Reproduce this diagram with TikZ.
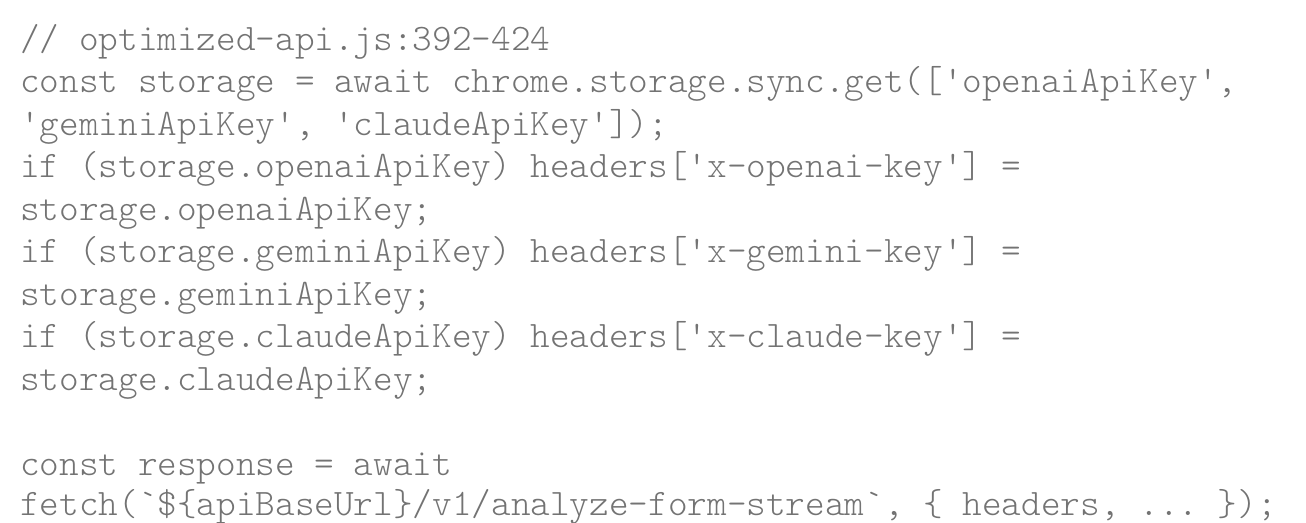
\documentclass[tikz,border=0pt]{standalone}
\usepackage{fontspec}
\setmonofont{Latin Modern Mono Light}
\begin{document}
\begin{tikzpicture}[x=1pt,y=1pt,code/.style={anchor=base west,inner sep=0pt,font=\ttfamily\fontsize{37.4}{40}\selectfont,text=black!55}]
\useasboundingbox (0,0) rectangle (1306,-522);
\node[code] (l1) at (20,-50) {// optimized-api.js:392-424};
\node[code] (l2) at (20,-92.5) {const storage = await chrome.storage.sync.get(['openaiApiKey',};
\node[code] (l3) at (20,-135) {'geminiApiKey', 'claudeApiKey']);};
\node[code] (l4) at (20,-177.5) {if (storage.openaiApiKey) headers['x-openai-key'] =};
\node[code] (l5) at (20,-220) {storage.openaiApiKey;};
\node[code] (l6) at (20,-262.5) {if (storage.geminiApiKey) headers['x-gemini-key'] =};
\node[code] (l7) at (20,-305) {storage.geminiApiKey;};
\node[code] (l8) at (20,-347.5) {if (storage.claudeApiKey) headers['x-claude-key'] =};
\node[code] (l9) at (20,-390) {storage.claudeApiKey;};
\node[code] (l11) at (20,-475) {const response = await};
\node[code] (l12) at (20,-515) {fetch(`\$\{apiBaseUrl\}/v1/analyze-form-stream`, \{ headers, ... \});};
\end{tikzpicture}
\end{document}
